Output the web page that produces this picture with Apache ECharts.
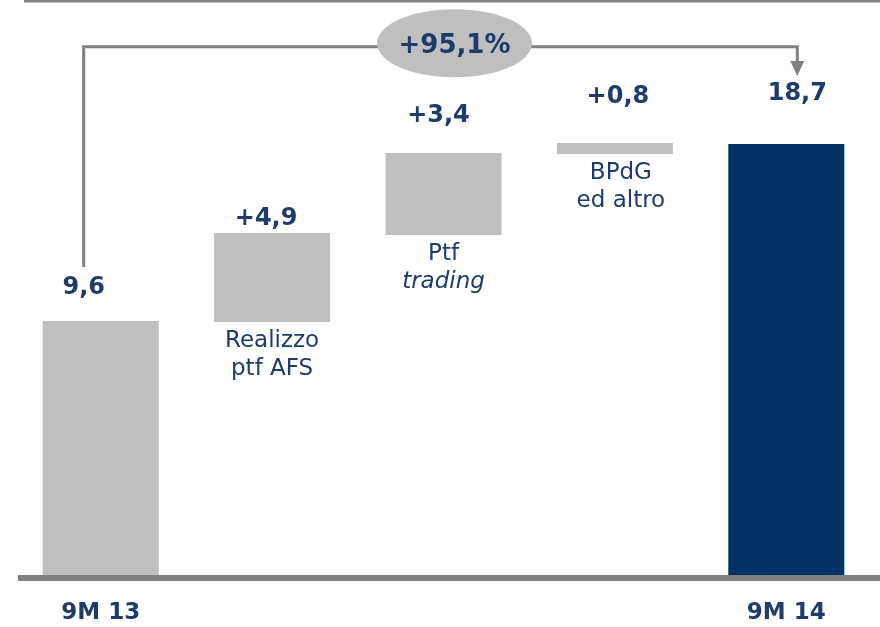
<!DOCTYPE html>
<html>
<head>
<meta charset="utf-8">
<script src="https://cdn.jsdelivr.net/npm/echarts@6/dist/echarts.min.js"></script>
<style>
html, body { margin: 0; padding: 0; background: #fff; }
#chart { width: 880px; height: 627px; }
</style>
</head>
<body>
<div id="chart"></div>
<script>
// categories of the bridge
var categories = ['9M 13', 'Realizzo ptf AFS', 'Ptf trading', 'BPdG ed altro', '9M 14'];
// bar bottoms and heights as drawn in the picture (same unit as the 9M 13 bar = 9,6)
var barBase = [0, 9.56, 12.85, 15.91, 0];
var barSize = [9.6, 3.37, 3.10, 0.42, 16.29];
// printed values
var valueLabels = ['9,6', '+4,9', '+3,4', '+0,8', '18,7'];
var stepLabels = ['', 'Realizzo\nptf AFS', 'Ptf\n{i|trading}', 'BPdG\ned altro', ''];
var changeLabel = '+95,1%';

var NAVY_TEXT = '#1F3B69';
var GREY = '#BFBFBF';
var LINE = '#808080';
var FONT = 'DejaVu Sans';

// label nudges [x, y] so the numbers sit where the slide puts them
var labelOffset = [[-17, -21], [-6, -2], [-5, -25], [3, -34], [11, -38]];

var chart = echarts.init(document.getElementById('chart'));

var option = {
    animation: false,
    grid: { left: 15, right: 8, top: 0, bottom: 49, containLabel: false },
    xAxis: {
        type: 'category',
        data: categories,
        axisTick: { show: false },
        axisLine: { show: false },
        axisLabel: {
            margin: 23,
            fontFamily: FONT,
            fontWeight: 'bold',
            fontSize: 23,
            lineHeight: 24,
            color: NAVY_TEXT,
            interval: 0,
            formatter: function (v, i) { return (i === 0 || i === categories.length - 1) ? v : ''; }
        },
        splitLine: { show: false }
    },
    yAxis: {
        type: 'value',
        min: -0.113,
        max: 21.733,
        show: false,
        splitLine: { show: false }
    },
    series: [
        {
            name: 'base',
            type: 'bar',
            stack: 'bridge',
            barWidth: 116,
            silent: true,
            itemStyle: { color: 'rgba(0,0,0,0)' },
            data: barBase.map(function (v, i) {
                return {
                    value: v,
                    label: {
                        show: stepLabels[i] !== '',
                        position: 'insideTop',
                        distance: 5,
                        offset: [i === 3 ? 6 : 0, 0],
                        formatter: stepLabels[i],
                        fontFamily: FONT,
                        fontSize: 23,
                        lineHeight: 28,
                        color: NAVY_TEXT,
                        rich: {
                            i: { fontFamily: FONT, fontStyle: 'italic', fontSize: 23, lineHeight: 28, color: NAVY_TEXT }
                        }
                    }
                };
            })
        },
        {
            name: 'value',
            type: 'bar',
            stack: 'bridge',
            barWidth: 116,
            data: barSize.map(function (v, i) {
                return {
                    value: v,
                    itemStyle: { color: i === barSize.length - 1 ? '#023263' : GREY },
                    label: {
                        show: true,
                        position: 'top',
                        distance: 0,
                        offset: labelOffset[i],
                        formatter: valueLabels[i],
                        fontFamily: FONT,
                        fontWeight: 'bold',
                        fontSize: 24,
                        lineHeight: 24,
                        color: NAVY_TEXT
                    }
                };
            })
        }
    ]
};

chart.setOption(option);

// bridge arrow from 9M 13 to 9M 14, with the change bubble
function px(c, v) { return chart.convertToPixel({ gridIndex: 0 }, [c, v]); }
var pStart = px(0, 11.64), pTop = px(0, 19.97), pTip = px(4, 18.86);
var x0 = pStart[0] - 17, x1 = pTip[0] + 11, yTop = pTop[1];
var bubbleX = px(2, 0)[0] + 11;
var yBase = px(0, -0.113)[1];

chart.setOption({
    graphic: [
        {
            type: 'line',
            shape: { x1: 24, y1: 1, x2: 880, y2: 1 },
            style: { stroke: LINE, lineWidth: 3 }
        },
        {
            type: 'line',
            shape: { x1: 18, y1: yBase, x2: 880, y2: yBase },
            style: { stroke: LINE, lineWidth: 6 },
            z: 5
        },
        {
            type: 'polyline',
            shape: { points: [[x0, pStart[1]], [x0, yTop], [x1, yTop], [x1, pTip[1] - 14]] },
            style: { stroke: LINE, lineWidth: 3, fill: null },
            z: 10
        },
        {
            type: 'polygon',
            shape: { points: [[x1 - 7, pTip[1] - 15], [x1 + 7, pTip[1] - 15], [x1, pTip[1]]] },
            style: { fill: LINE },
            z: 10
        },
        {
            type: 'ellipse',
            shape: { cx: bubbleX, cy: yTop - 3.5, rx: 77.5, ry: 34 },
            style: { fill: GREY },
            z: 11
        },
        {
            type: 'text',
            x: bubbleX,
            y: yTop,
            style: {
                text: changeLabel,
                fontFamily: FONT,
                fontWeight: 'bold',
                fontSize: 26,
                fill: NAVY_TEXT,
                align: 'center',
                verticalAlign: 'middle'
            },
            z: 12
        }
    ]
});
</script>
</body>
</html>
